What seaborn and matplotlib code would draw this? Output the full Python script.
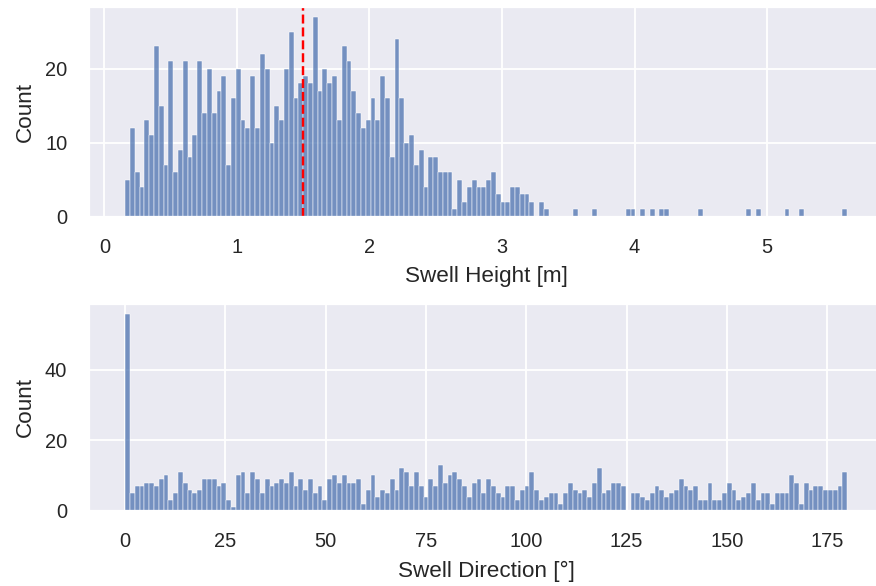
import numpy as np
import pandas as pd
import matplotlib
matplotlib.use("Agg")
import matplotlib.pyplot as plt
import seaborn as sns

# ---- data (bin counts, 150 bins each) ----
height_min, height_max = 0.156, 5.605
height_counts = [
    5, 12, 6, 4, 13, 11, 23, 15, 7, 21, 6, 9, 21, 8, 11, 21, 14, 20, 14, 17,
    19, 7, 16, 20, 13, 12, 19, 12, 22, 20, 10, 15, 13, 20, 25, 16, 18, 19, 18, 27,
    17, 20, 18, 19, 13, 23, 21, 17, 14, 12, 13, 16, 13, 19, 16, 8, 24, 16, 10, 11,
    7, 9, 4, 8, 8, 6, 6, 6, 1, 5, 2, 4, 5, 4, 4, 5, 6, 3, 2, 2,
    4, 4, 3, 3, 2, 0, 2, 1, 0, 0, 0, 0, 0, 1, 0, 0, 0, 1, 0, 0,
    0, 0, 0, 0, 1, 1, 0, 1, 0, 1, 0, 1, 1, 0, 0, 0, 0, 0, 0, 1,
    0, 0, 0, 0, 0, 0, 0, 0, 0, 1, 0, 1, 0, 0, 0, 0, 0, 1, 0, 0,
    1, 0, 0, 0, 0, 0, 0, 0, 0, 1,
]
height_marker = 1.5

direction_min, direction_max = 0.0, 180.0
direction_counts = [
    56, 5, 7, 7, 8, 8, 7, 9, 10, 3, 5, 11, 8, 6, 5, 6, 9, 9, 9, 7,
    8, 3, 1, 10, 11, 5, 11, 9, 5, 9, 7, 8, 9, 8, 11, 7, 9, 6, 9, 5,
    7, 3, 9, 10, 8, 10, 8, 8, 9, 2, 6, 10, 4, 6, 5, 9, 6, 12, 11, 7,
    11, 7, 4, 9, 7, 13, 8, 10, 11, 9, 7, 4, 8, 9, 5, 9, 7, 5, 4, 7,
    7, 3, 6, 7, 11, 6, 3, 4, 5, 5, 2, 5, 8, 6, 5, 6, 4, 8, 12, 5,
    6, 8, 8, 7, 0, 5, 5, 4, 3, 5, 7, 6, 4, 5, 6, 9, 7, 6, 7, 3,
    3, 8, 3, 3, 5, 8, 6, 3, 4, 5, 8, 3, 5, 5, 2, 5, 5, 5, 10, 8,
    2, 8, 6, 7, 7, 6, 6, 6, 7, 11,
]

x_label_top = "Swell Height [m]"
x_label_bottom = "Swell Direction [°]"
y_label = "Count"

# ---- style ----
sns.set_theme(context="talk", style="darkgrid")
plt.rcParams["font.family"] = ["Liberation Sans", "DejaVu Sans"]
plt.rcParams["xtick.major.pad"] = 8.8
plt.rcParams["ytick.major.pad"] = 8.8
plt.rcParams["axes.labelpad"] = 7.5
plt.rcParams["axes.labelsize"] = 18.5

DPI = 87.6
W, H = 876, 586
fig = plt.figure(figsize=(W / DPI, H / DPI), dpi=DPI)
ax1 = fig.add_axes([89.0 / W, (H - 216.7) / H, 794.3 / W, 209.8 / H])
ax2 = fig.add_axes([89.0 / W, (H - 510.7) / H, 794.3 / W, 207.0 / H])

nb_h = len(height_counts)
edges_h = np.linspace(height_min, height_max, nb_h + 1)
centers_h = (edges_h[:-1] + edges_h[1:]) / 2
df_h = pd.DataFrame({"height": centers_h, "n": np.asarray(height_counts, float)})
sns.histplot(data=df_h, x="height", weights="n", bins=nb_h,
             binrange=(height_min, height_max), ax=ax1)
ax1.axvline(height_marker, color="red", linestyle="--", linewidth=2)
ax1.set_xlabel(x_label_top)
ax1.set_ylabel(y_label)

nb_d = len(direction_counts)
edges_d = np.linspace(direction_min, direction_max, nb_d + 1)
centers_d = (edges_d[:-1] + edges_d[1:]) / 2
df_d = pd.DataFrame({"direction": centers_d, "n": np.asarray(direction_counts, float)})
sns.histplot(data=df_d, x="direction", weights="n", bins=nb_d,
             binrange=(direction_min, direction_max), ax=ax2)
ax2.set_xlabel(x_label_bottom)
ax2.set_ylabel(y_label)

fig.savefig("out.png", dpi=DPI)
